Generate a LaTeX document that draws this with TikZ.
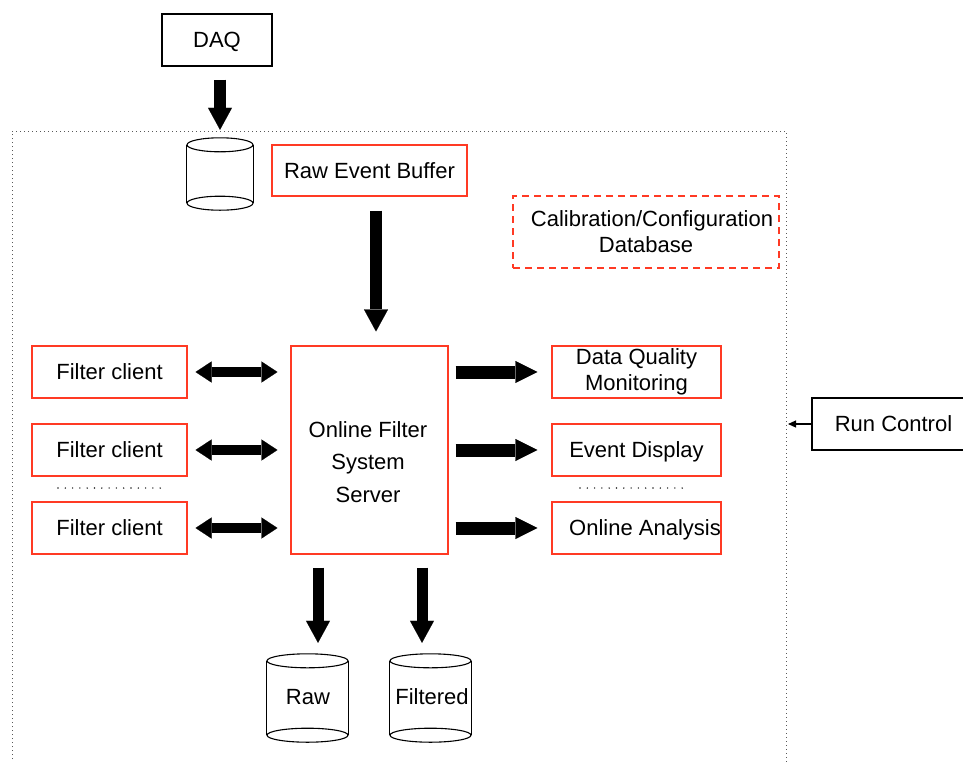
\documentclass[tikz,border=0pt]{standalone}
\usepackage{fontspec}
\setmainfont{Liberation Sans}
\usetikzlibrary{arrows.meta,calc}
\definecolor{boxred}{RGB}{255,58,36}
\tikzset{
  basebox/.style={inner sep=0pt, line width=1.1pt, align=center,
    font=\fontsize{22}{26}\selectfont},
  oneline/.style={text height=18pt, text depth=3pt},
  bbox/.style={basebox, draw=black},
  rbox/.style={basebox, draw=boxred},
  dbox/.style={basebox, draw=boxred, dash pattern=on 7pt off 5pt},
  txt/.style={inner sep=0pt, align=center, font=\fontsize{22}{26}\selectfont},
  cylnode/.style={inner sep=0pt, draw=none},
  blk/.style={line width=12pt, -{Triangle[width=24pt,length=22pt,line width=0.1pt]}},
  rarr/.style={line width=13pt, -{Triangle[width=22pt,length=22pt,line width=0.1pt]}},
  dbl/.style={line width=10pt, {Triangle[width=21pt,length=16pt,line width=0.1pt]}-{Triangle[width=21pt,length=16pt,line width=0.1pt]}},
  frame/.style={line width=1pt, black!65, dash pattern=on 1pt off 3pt},
  dotrow/.style={line width=1.6pt, black!85, line cap=round, dash pattern=on 0pt off 7.3pt},
  cylline/.style={line width=1.1pt, black},
}
\newcommand{\mycylinder}[2]{% name, half width
  \draw[cylline] ([yshift=-7pt]#1.north) ellipse [x radius=#2, y radius=7pt];
  \draw[cylline] ([yshift=7pt]#1.south) ellipse [x radius=#2, y radius=7pt];
  \draw[cylline] ([yshift=-7pt]#1.north west) -- ([yshift=7pt]#1.south west);
  \draw[cylline] ([yshift=-7pt]#1.north east) -- ([yshift=7pt]#1.south east);
}
\begin{document}
\begin{tikzpicture}[x=1pt,y=-1pt]
\useasboundingbox (0,0) rectangle (963,761);

% dotted frame
\coordinate (fbl) at (12,775);
\coordinate (ftl) at (12,131);
\coordinate (ftr) at (786,131);
\coordinate (fbr) at (786,775);
\draw[frame] (fbl) -- (ftl) -- (ftr) -- (fbr);

% nodes
\node[bbox, oneline, minimum width=110pt, minimum height=52pt] (daq) at (217,40) {DAQ};
\node[cylnode, minimum width=66pt, minimum height=72pt] (topcyl) at (220,174) {};
\node[rbox, oneline, minimum width=195pt, minimum height=51pt] (rbuf) at (369.5,170.5) {Raw Event Buffer};
\node[dbox, minimum width=266pt, minimum height=72pt] (calib) at (646,232) {\hspace*{12pt}Calibration/Configuration\\[0pt]Database};

\node[rbox, oneline, minimum width=155pt, minimum height=52pt] (fc1) at (109.5,372) {Filter client};
\node[rbox, oneline, minimum width=155pt, minimum height=52pt] (fc2) at (109.5,450) {Filter client};
\node[rbox, oneline, minimum width=155pt, minimum height=52pt] (fc3) at (109.5,528) {Filter client};

\node[rbox, minimum width=157pt, minimum height=208pt] (server) at (369.5,450) {};
\node[txt, font=\fontsize{22}{32.5}\selectfont] (servertext) at (368,462) {Online Filter\\System\\Server};

\node[rbox, minimum width=169pt, minimum height=52pt] (dqm) at (636.5,372) {Data Quality\\Monitoring};
\node[rbox, oneline, minimum width=169pt, minimum height=52pt] (ed) at (636.5,450) {Event Display};
\node[rbox, oneline, minimum width=169pt, minimum height=52pt] (oa) at (636.5,528) {\hspace*{17pt}Online Analysis};

\node[bbox, oneline, minimum width=163pt, minimum height=52pt] (rc) at (893.5,424) {Run Control};
\coordinate (frameR) at (788,424);

\node[cylnode, minimum width=81pt, minimum height=88pt] (rawcyl) at (307.5,698) {};
\node[cylnode, minimum width=81pt, minimum height=88pt] (filtcyl) at (430.5,698) {};

% cylinders
\mycylinder{topcyl}{33pt}
\mycylinder{rawcyl}{40.5pt}
\mycylinder{filtcyl}{40.5pt}
\node[txt] (rawlabel) at (308,697) {Raw};
\node[txt] (filtlabel) at (432,697) {Filtered};

% dot rows
\coordinate (dl1) at (58,488);
\coordinate (dl2) at (163,488);
\coordinate (dr1) at (580,488);
\coordinate (dr2) at (685,488);
\draw[dotrow] (dl1) -- (dl2);
\draw[dotrow] (dr1) -- (dr2);

% arrows
\draw[blk, shorten <=13pt, shorten >=8pt] (daq.south -| topcyl.north) -- (topcyl.north);
\draw[blk, shorten <=14pt, shorten >=14pt] ([xshift=6.5pt]rbuf.south) -- ([xshift=6.5pt]server.north);

\draw[dbl, shorten <=8pt, shorten >=13pt] (fc1.east) -- (server.west |- fc1.east);
\draw[dbl, shorten <=8pt, shorten >=13pt] (fc2.east) -- (server.west |- fc2.east);
\draw[dbl, shorten <=8pt, shorten >=13pt] (fc3.east) -- (server.west |- fc3.east);

\draw[rarr, shorten <=7pt, shorten >=14pt] (server.east |- dqm.west) -- (dqm.west);
\draw[rarr, shorten <=7pt, shorten >=14pt] (server.east |- ed.west) -- (ed.west);
\draw[rarr, shorten <=7pt, shorten >=14pt] (server.east |- oa.west) -- (oa.west);

\draw[blk, line width=11pt, shorten <=13pt, shorten >=11pt] ([xshift=10.5pt]rawcyl.north |- server.south) -- ([xshift=10.5pt]rawcyl.north);
\draw[blk, line width=11pt, shorten <=13pt, shorten >=11pt] ([xshift=-8.5pt]filtcyl.north |- server.south) -- ([xshift=-8.5pt]filtcyl.north);

\draw[line width=1.1pt, -{Triangle[width=7pt,length=8pt]}] (rc.west) -- (frameR);
\end{tikzpicture}
\end{document}
